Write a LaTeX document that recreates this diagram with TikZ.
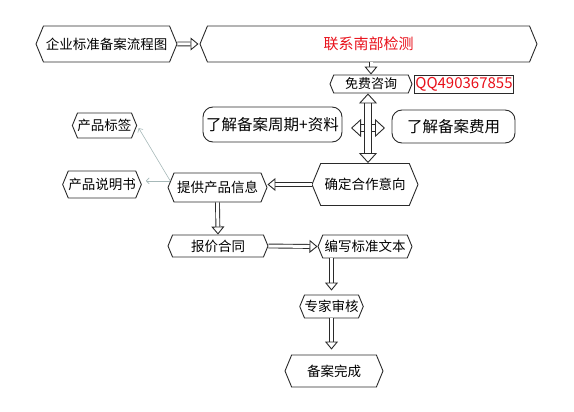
\documentclass[tikz,border=0pt]{standalone}
\usepackage{fontspec}
\setmainfont{Noto Sans CJK SC}
\usepackage{tikz}
\usetikzlibrary{arrows.meta, shapes.symbols}
\definecolor{hongse}{HTML}{E8101A}
\definecolor{huixian}{HTML}{A6B8B8}
\definecolor{moxian}{HTML}{2A2A2A}

\begin{document}
\begin{tikzpicture}[x=1pt, y=-1pt,
    hexa/.style = {draw=moxian, line width=0.9pt, signal, signal to=west and east, signal pointer angle=135, inner sep=0pt, font=\fontsize{13.5}{16}\selectfont},
    yuan/.style = {draw=moxian, line width=0.9pt, rounded corners=10pt, inner sep=0pt, font=\fontsize{15.5}{18}\selectfont},
    kong/.style = {draw=moxian, line width=0.9pt, double, double distance=3pt, -{Triangle[open, fill=white, length=8pt, width=13pt]}},
    kuan/.style = {draw=moxian, line width=0.9pt, double, double distance=6pt, {Triangle[open, fill=white, length=10pt, width=18pt]}-{Triangle[open, fill=white, length=10pt, width=18pt]}},
    xian/.style = {draw=huixian, line width=0.6pt, -{Straight Barb[length=3pt,width=6pt]}}]
    \useasboundingbox (0,0) rectangle (574,412);

    \node[hexa, minimum width=141, minimum height=36] (QY) at (106.5,44) {企业标准备案流程图};
    \node[hexa, minimum width=337, minimum height=36, text=hongse, font=\fontsize{15}{18}\selectfont] (LX) at (368.5,44) {联系南部检测};
    \node[hexa, minimum width=82, minimum height=18, font=\fontsize{13}{15}\selectfont] (MF) at (371,84) {免费咨询};
    \node[draw=moxian, line width=0.6pt, text=hongse, inner sep=1pt, minimum width=94, minimum height=18, font=\fontsize{15}{18}\selectfont] (QQ) at (464,84) {QQ490367855};
    \node[yuan, minimum width=139, minimum height=35] (ZQ) at (272.5,124.5) {了解备案周期+资料};
    \node[yuan, minimum width=123, minimum height=33] (FY) at (453.5,126.5) {了解备案费用};
    \node[hexa, minimum width=106, minimum height=42] (QD) at (365,184.5) {确定合作意向};
    \node[hexa, minimum width=99, minimum height=29] (TG) at (217.5,187.5) {提供产品信息};
    \node[hexa, minimum width=63, minimum height=25] (BQ) at (104.5,125.5) {产品标签};
    \node[hexa, minimum width=72, minimum height=27] (SM) at (102,184.5) {产品说明书};
    \node[hexa, minimum width=100, minimum height=22] (BJ) at (218,246) {报价合同};
    \node[hexa, minimum width=94, minimum height=23] (BX) at (365,246.5) {编写标准文本};
    \node[hexa, minimum width=61, minimum height=23] (ZJ) at (331.5,306.5) {专家审核};
    \node[hexa, minimum width=98, minimum height=32] (WC) at (334,371) {备案完成};

    \coordinate (HL) at (351,128);
    \coordinate (HR) at (385,128);

    \path (QY) edge[kong, shorten >=1pt] (LX);
    \path (LX.south -| MF.north) edge[kong] (MF.north);
    \path (HL) edge[kuan] (HR);
    \path ([xshift=-3pt]MF.south) edge[kuan] ([xshift=-3pt]MF.south |- QD.north);
    \path (QD.west) edge[kong] (QD.west -| TG.east);
    \path (TG.south) edge[kong] (BJ.north);
    \path (BJ.east) edge[kong] (BX.west);
    \path (BX.south -| ZJ.north) edge[kong, shorten >=4pt] (ZJ.north);
    \path (ZJ.south) edge[kong, shorten >=5pt] (ZJ.south |- WC.north);

    \path (TG.172) edge[xian, shorten >=4pt] (TG.172 -| SM.east);
    \path (TG.172) edge[xian, shorten >=3pt] (BQ.east);
\end{tikzpicture}
\end{document}
